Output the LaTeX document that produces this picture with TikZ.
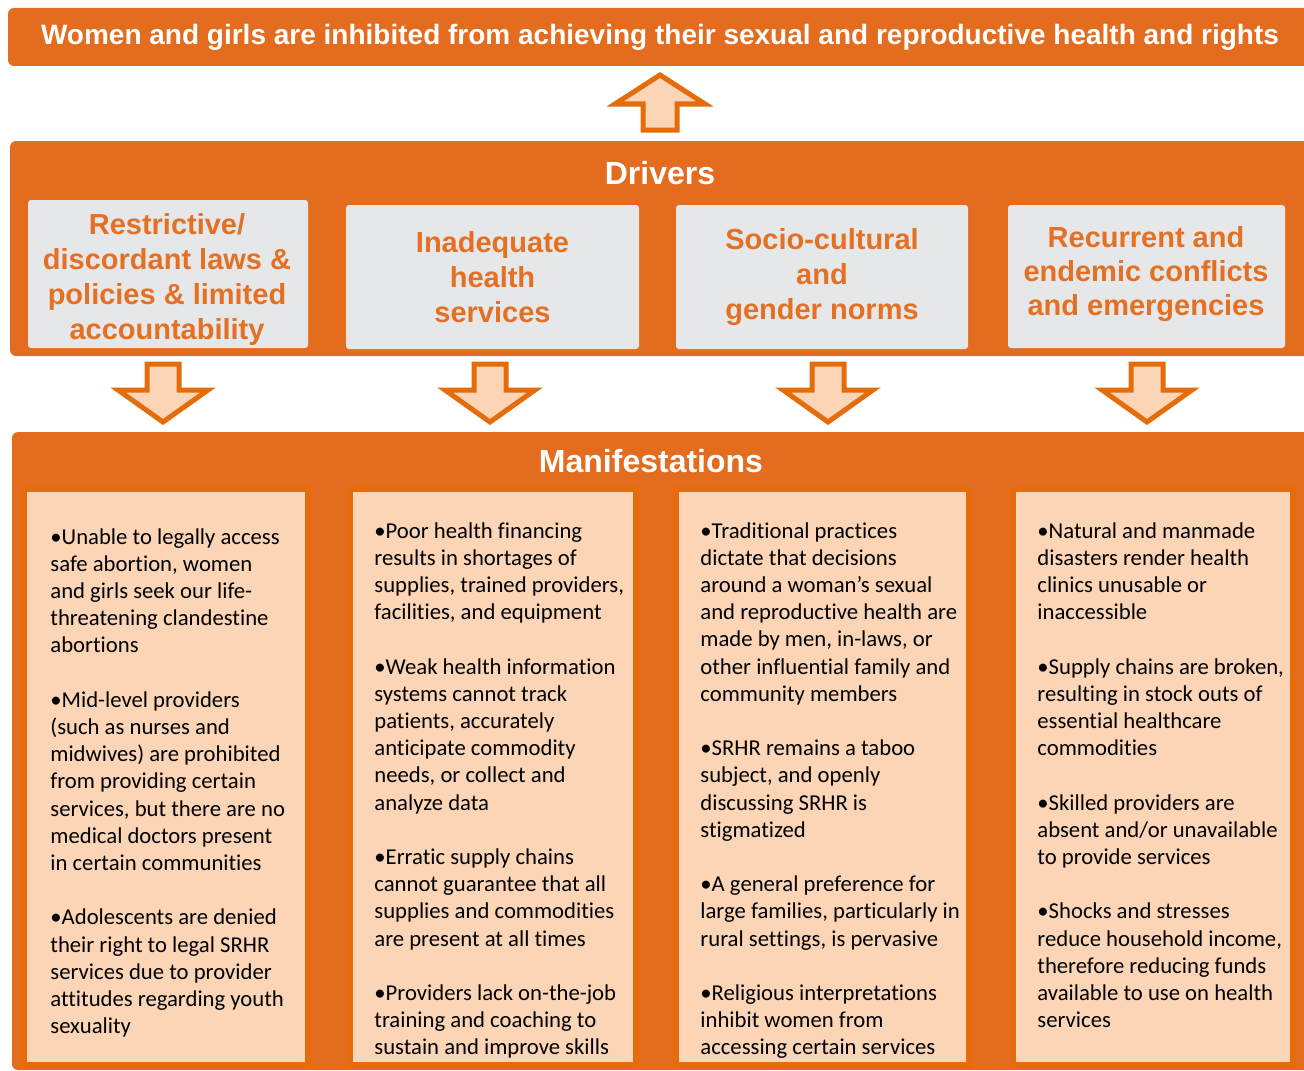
\documentclass[tikz,border=0pt]{standalone}
\usepackage{fontspec}
\setmainfont{Carlito}[Ligatures=NoCommon]
\newfontfamily\headfont{Liberation Sans}
\usetikzlibrary{positioning, calc}
\definecolor{drvorange}{RGB}{227,108,30}
\definecolor{edgeorange}{RGB}{228,108,10}
\definecolor{peach}{RGB}{251,213,181}
\definecolor{boxgray}{RGB}{230,231,232}
\definecolor{drvtext}{RGB}{228,112,36}
\tikzset{
  panel/.style={fill=drvorange, rounded corners=3pt, inner sep=0pt, outer sep=0pt},
  headtxt/.style={text=white, font=\headfont\bfseries\fontsize{16}{19}\selectfont, inner sep=0pt},
  drvbox/.style={fill=boxgray, rounded corners=1.5pt, inner sep=0pt, outer sep=0pt, text=drvtext,
    font=\headfont\bfseries\fontsize{14.5}{17.5}\selectfont, align=center},
  manbox/.style={fill=peach, draw=edgeorange, line width=3pt, inner sep=0pt, outer sep=0pt},
  bodytxt/.style={font=\fontsize{11.35}{13.6}\selectfont, align=left, inner sep=0pt, anchor=north west},
  blockarrow/.style={fill=peach, draw=edgeorange, line width=2.5pt, line join=miter}
}

\begin{document}
\begin{tikzpicture}[x=0.5pt, y=-0.5pt]
  \useasboundingbox (0,0) rectangle (1304,1070);

  % goal banner
  \node[panel, minimum width=652pt, minimum height=29pt, text=white,
        font=\headfont\bfseries\fontsize{14}{16}\selectfont] (goal) at (660,37)
    {Women and girls are inhibited from achieving their sexual and reproductive health and rights};

  % drivers
  \node[panel, minimum width=651pt, minimum height=107.5pt] (drivers) at (661,248.5) {};
  \node[headtxt] (drvlabel) at (660,173) {Drivers};
  \node[drvbox, minimum width=140pt, minimum height=74pt] (drv1) at (168,274) {};
  \node[drvbox, fill=none] (drv1txt) at (167,279)
    {Restrictive/\\ discordant laws \&\\ policies \& limited\\ accountability};
  \node[drvbox, minimum width=146.5pt, minimum height=72pt] (drv2) at (492.5,277)
    {Inadequate\\ health\\ services};
  \node[drvbox, minimum width=146pt, minimum height=72pt] (drv3) at (822,277)
    {Socio-cultural\\ and\\ gender norms};
  \node[drvbox, minimum width=138.5pt, minimum height=71.5pt] (drv4) at (1146.5,276.5) {};
  \node[drvbox, fill=none, font=\headfont\bfseries\fontsize{14.5}{17}\selectfont] (drv4txt) at (1146,274)
    {Recurrent and\\ endemic conflicts\\ and emergencies};

  % block arrows
  \draw[blockarrow] (660,75) -- (705,104) -- (677,104) -- (677,130) -- (643,130)
    -- (643,104) -- (615,104) -- cycle;
  \foreach \cx in {163,490,828,1147}
    \draw[blockarrow] (\cx-16,364) -- (\cx+16,364) -- (\cx+16,390) -- (\cx+45,390)
      -- (\cx,422) -- (\cx-45,390) -- (\cx-16,390) -- cycle;

  % manifestations
  \node[panel, minimum width=650pt, minimum height=319pt] (manif) at (662,751) {};
  \node[headtxt] (manlabel) at (651,461) {Manifestations};
  \node[manbox, minimum width=142pt, minimum height=288pt] (man1) at (166,777) {};
  \node[manbox, minimum width=143pt, minimum height=288pt] (man2) at (493,777) {};
  \node[manbox, minimum width=146.5pt, minimum height=288pt] (man3) at (822.5,777) {};
  \node[manbox, minimum width=140pt, minimum height=288pt] (man4) at (1153,777) {};

  \node[bodytxt] (txt1) at (50,528)
    {•Unable to legally access\\ safe abortion, women\\ and girls seek our life-\\
     threatening clandestine\\ abortions\\[13.6pt]
     •Mid-level providers\\ (such as nurses and\\ midwives) are prohibited\\
     from providing certain\\ services, but there are no\\ medical doctors present\\
     in certain communities\\[13.6pt]
     •Adolescents are denied\\ their right to legal SRHR\\ services due to provider\\
     attitudes regarding youth\\ sexuality};
  \node[bodytxt] (txt2) at (374,522)
    {•Poor health financing\\ results in shortages of\\ supplies, trained providers,\\
     facilities, and equipment\\[13.6pt]
     •Weak health information\\ systems cannot track\\ patients, accurately\\
     anticipate commodity\\ needs, or collect and\\ analyze data\\[13.6pt]
     •Erratic supply chains\\ cannot guarantee that all\\ supplies and commodities\\
     are present at all times\\[13.6pt]
     •Providers lack on-the-job\\ training and coaching to\\ sustain and improve skills};
  \node[bodytxt] (txt3) at (700,522)
    {•Traditional practices\\ dictate that decisions\\ around a woman’s sexual\\
     and reproductive health are\\ made by men, in-laws, or\\ other influential family and\\
     community members\\[13.6pt]
     •SRHR remains a taboo\\ subject, and openly\\ discussing SRHR is\\ stigmatized\\[13.6pt]
     •A general preference for\\ large families, particularly in\\ rural settings, is pervasive\\[13.6pt]
     •Religious interpretations\\ inhibit women from\\ accessing certain services};
  \node[bodytxt] (txt4) at (1037,522)
    {•Natural and manmade\\ disasters render health\\ clinics unusable or\\ inaccessible\\[13.6pt]
     •Supply chains are broken,\\ resulting in stock outs of\\ essential healthcare\\
     commodities\\[13.6pt]
     •Skilled providers are\\ absent and/or unavailable\\ to provide services\\[13.6pt]
     •Shocks and stresses\\ reduce household income,\\ therefore reducing funds\\
     available to use on health\\ services};
\end{tikzpicture}
\end{document}
